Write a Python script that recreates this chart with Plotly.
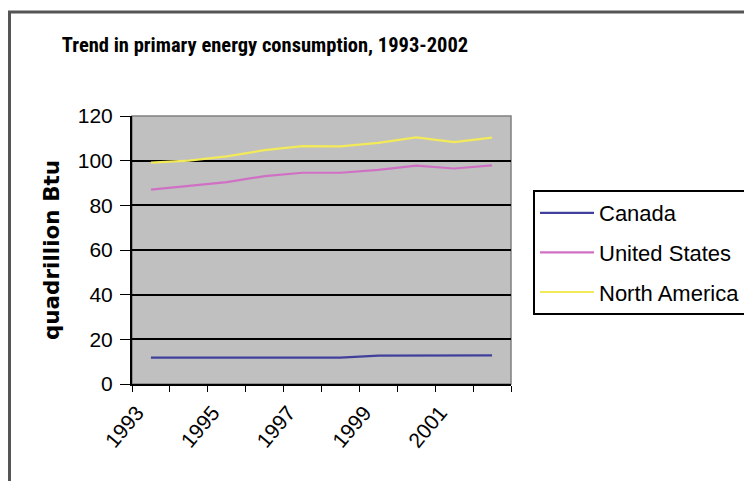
import plotly.graph_objects as go

years = [1993, 1994, 1995, 1996, 1997, 1998, 1999, 2000, 2001, 2002]
canada = [11.8, 11.8, 11.8, 11.8, 11.8, 11.8, 12.7, 12.7, 12.7, 12.8]
united_states = [87.0, 88.6, 90.4, 93.1, 94.6, 94.6, 95.9, 97.8, 96.5, 97.9]
north_america = [99.1, 100.0, 101.9, 104.7, 106.5, 106.4, 108.0, 110.4, 108.3, 110.3]
series_names = ["Canada", "United States", "North America"]
series_colors = ["#40409c", "#d070c4", "#f2ea58"]
x_tick_years = [1993, 1995, 1997, 1999, 2001]
y_ticks = [0, 20, 40, 60, 80, 100, 120]

FONT = "Liberation Sans, Arial, sans-serif"
NARROW = "Liberation Sans Narrow, Arial Narrow, Roboto Condensed, Roboto, sans-serif"

fig = go.Figure()
for name, vals, col in zip(series_names, [canada, united_states, north_america], series_colors):
    fig.add_trace(go.Scatter(x=years, y=vals, name=name, mode="lines",
                             line=dict(color=col, width=2.2), legendgroup=name))

OFF = 8  # page body margin
W, H = 752 - OFF, 481 - OFF
L, R, T, B = 132 - OFF, 511 - OFF, 116 - OFF, 384 - OFF
pw, ph = R - L, B - T

def px(xs):
    return (xs - OFF - L) / pw

def py(ys):
    return (B - (ys - OFF)) / ph

fig.update_layout(
    width=W, height=H,
    margin=dict(l=L, r=W - R, t=T, b=H - B, pad=0, autoexpand=False),
    paper_bgcolor="white", plot_bgcolor="#c0c0c0",
    font=dict(family=FONT, color="black"),
    title=dict(text="<b>Trend in primary energy consumption, 1993-2002</b>",
               x=px(265), xref="paper", xanchor="center",
               y=1 - (45 - OFF) / H, yanchor="middle",
               font=dict(size=20.5, family=NARROW)),
    showlegend=True,
    legend=dict(x=px(533), y=py(190), xanchor="left", yanchor="top",
                bordercolor="black", borderwidth=2, bgcolor="white",
                font=dict(size=22, family=FONT), tracegroupgap=8,
                itemwidth=54),
    xaxis=dict(range=[1992.5, 2002.5], tickvals=x_tick_years,
               ticktext=[str(v) for v in x_tick_years], tickangle=-50,
               ticks="outside", ticklen=6, tickcolor="rgba(0,0,0,0)",
               ticklabelshift=-14, automargin=False,
               showgrid=False, zeroline=False, showline=True,
               linecolor="black", linewidth=2,
               tickfont=dict(size=21, family=FONT),
               minor=dict(tickvals=[y + 0.5 for y in range(1992, 2003)],
                          ticks="outside", ticklen=6, tickcolor="black",
                          showgrid=False)),
    yaxis=dict(range=[0, 120], tickvals=y_ticks, ticks="outside", ticklen=10,
               ticklabelstandoff=3, automargin=False,
               tickcolor="black", showgrid=False, zeroline=False,
               showline=True, linecolor="black", linewidth=2,
               tickfont=dict(size=21, family=FONT),
               title=dict(text="<b>quadrillion Btu</b>", standoff=12,
                          font=dict(size=21.5, family="DejaVu Sans")),
               minor=dict(tickvals=[20, 40, 60, 80, 100], showgrid=True,
                          gridcolor="black", gridwidth=2, ticks="")),
    shapes=[
        dict(type="rect", xref="paper", yref="paper", x0=0, x1=1, y0=0, y1=1,
             line=dict(color="#808080", width=1.5), layer="below"),
        dict(type="rect", xref="paper", yref="paper", x0=px(9.5), x1=px(800),
             y0=py(12), y1=py(540), line=dict(color="#555555", width=3)),
    ],
)

fig.write_html("out.html")
